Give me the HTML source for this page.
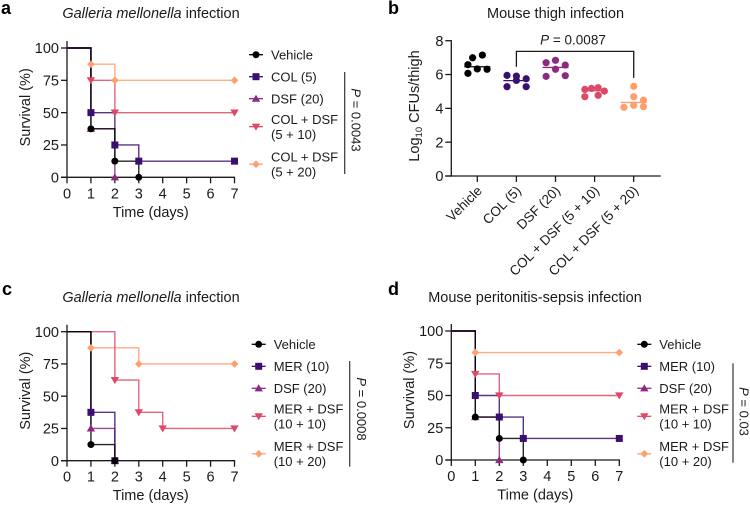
<!DOCTYPE html>
<html>
<head>
<meta charset="utf-8">
<title>Survival and CFU charts</title>
<style>
html,body{margin:0;padding:0;background:#fff;}
svg{display:block;font-family:"Liberation Sans",Arial,sans-serif;fill:#1a1a1a;}
.t{font-size:14.5px;}
.l{font-size:13px;}
.p{font-size:18px;font-weight:bold;fill:#000;}
</style>
</head>
<body>
<svg id="fig" width="750" height="505" viewBox="0 0 750 505" xmlns="http://www.w3.org/2000/svg">
<text class="p" x="1" y="14">a</text>
<text class="p" x="388" y="14">b</text>
<text class="p" x="2" y="295">c</text>
<text class="p" x="388" y="295">d</text>
<text class="t" x="151" y="18" text-anchor="middle"><tspan font-style="italic">Galleria mellonella</tspan> infection</text>
<text class="t" x="555.5" y="18" text-anchor="middle">Mouse thigh infection</text>
<text class="t" x="151" y="302" text-anchor="middle"><tspan font-style="italic">Galleria mellonella</tspan> infection</text>
<text class="t" x="535" y="302" text-anchor="middle">Mouse peritonitis-sepsis infection</text>
<text class="t" transform="translate(419,106) rotate(-90)" text-anchor="middle">Log<tspan font-size="9.5" dy="3">10</tspan><tspan dy="-3"> CFUs/thigh</tspan></text>
<text class="l" x="573" y="44.5" font-size="13" text-anchor="middle" style="font-size:13.5px"><tspan font-style="italic">P</tspan> = 0.0087</text>
</svg>
<script>
// ---- shared axis values ----
const dayTicks = [0, 1, 2, 3, 4, 5, 6, 7];
const survivalTicks = [0, 25, 50, 75, 100];
const cfuTicks = [0, 2, 4, 6, 8];

// ---- panel a ----
const aVehicleDays = [0, 1, 2, 3];
const aVehicleSurvival = [100, 37.5, 12.5, 0];
const aColDays = [0, 1, 2, 3, 7];
const aColSurvival = [100, 50, 25, 12.5, 12.5];
const aDsfDays = [0, 1, 2];
const aDsfSurvival = [100, 37.5, 0];
const aCombo10Days = [0, 1, 2, 7];
const aCombo10Survival = [100, 75, 50, 50];
const aCombo20Days = [0, 1, 2, 7];
const aCombo20Survival = [100, 87.5, 75, 75];
const aLegend = [["Vehicle"], ["COL (5)"], ["DSF (20)"], ["COL + DSF", "(5 + 10)"], ["COL + DSF", "(5 + 20)"]];

// ---- panel c ----
const cVehicleDays = [0, 1, 2];
const cVehicleSurvival = [100, 12.5, 0];
const cMerDays = [0, 1, 2];
const cMerSurvival = [100, 37.5, 0];
const cDsfDays = [0, 1, 2];
const cDsfSurvival = [100, 25, 0];
const cCombo10Days = [0, 2, 3, 4, 7];
const cCombo10Survival = [100, 62.5, 37.5, 25, 25];
const cCombo20Days = [0, 1, 3, 7];
const cCombo20Survival = [100, 87.5, 75, 75];
const cLegend = [["Vehicle"], ["MER (10)"], ["DSF (20)"], ["MER + DSF", "(10 + 10)"], ["MER + DSF", "(10 + 20)"]];

// ---- panel d ----
const dVehicleDays = [0, 1, 2, 3];
const dVehicleSurvival = [100, 33.3, 16.7, 0];
const dMerDays = [0, 1, 2, 3, 7];
const dMerSurvival = [100, 50, 33.3, 16.7, 16.7];
const dDsfDays = [0, 1, 2];
const dDsfSurvival = [100, 33.3, 0];
const dCombo10Days = [0, 1, 2, 7];
const dCombo10Survival = [100, 66.7, 50, 50];
const dCombo20Days = [0, 1, 7];
const dCombo20Survival = [100, 83.3, 83.3];
const dLegend = cLegend;

// ---- panel b ----
const bCategories = ["Vehicle", "COL (5)", "DSF (20)", "COL + DSF (5 + 10)", "COL + DSF (5 + 20)"];
const bVehicle = [6.58, 6.99, 7.15, 6.07, 6.33, 6.31];
const bCol = [5.95, 5.91, 5.75, 5.28, 5.65, 5.28];
const bDsf = [6.70, 6.84, 6.56, 5.89, 6.31, 5.93];
const bCombo10 = [5.12, 5.18, 5.22, 5.02, 4.69, 4.77];
const bCombo20 = [5.30, 4.69, 4.49, 4.10, 4.18, 4.06];
const bMedians = [6.46, 5.64, 6.42, 5.04, 4.35];
// horizontal scatter of each point, in category widths
const bVehicleJitter = [-0.24, -0.12, 0.13, -0.24, 0, 0.25];
const bColJitter = [-0.24, 0, 0.25, -0.24, 0, 0.25];
const bDsfJitter = [-0.24, 0, 0.25, -0.24, 0, 0.25];
const bCombo10Jitter = [-0.25, -0.08, 0.09, 0.25, -0.25, 0.09];
const bCombo20Jitter = [0, 0, 0.25, 0.25, 0, -0.25];

const seriesColors = ["#000000", "#3b0f70", "#8c2981", "#de4968", "#fe9f6d"];
const seriesShapes = ["circle", "square", "triangle", "inverted", "diamond"];

const NS = "http://www.w3.org/2000/svg";
const fig = document.getElementById("fig");
const INK = "#1a1a1a";

function make(tag, attrs, text) {
  const el = document.createElementNS(NS, tag);
  for (const k in attrs) el.setAttribute(k, attrs[k]);
  if (text !== undefined) el.textContent = text;
  fig.appendChild(el);
  return el;
}

function drawMarker(shape, x, y, color) {
  let el;
  if (shape === "circle") {
    el = make("circle", { cx: x, cy: y, r: 3.5, fill: color });
  } else if (shape === "square") {
    el = make("rect", { x: x - 3.5, y: y - 3.5, width: 7, height: 7, fill: color });
  } else if (shape === "triangle") {
    el = make("polygon", { points: (x - 4.2) + "," + (y + 3.1) + " " + (x + 4.2) + "," + (y + 3.1) + " " + x + "," + (y - 4), fill: color });
  } else if (shape === "inverted") {
    el = make("polygon", { points: (x - 4.2) + "," + (y - 3.1) + " " + (x + 4.2) + "," + (y - 3.1) + " " + x + "," + (y + 4), fill: color });
  } else {
    el = make("polygon", { points: (x - 3.8) + "," + y + " " + x + "," + (y - 3.8) + " " + (x + 3.8) + "," + y + " " + x + "," + (y + 3.8), fill: color });
  }
  return el;
}

function drawSurvivalPanel(g, series, legend) {
  const xs = d => g.x0 + (g.x7 - g.x0) * d / 7;
  const ys = v => g.y0 + (g.y100 - g.y0) * v / 100;

  // axes
  const yAxis = make("line", { x1: xs(0), x2: xs(0), y1: g.y100 - 7, y2: g.y0 + 0.6, stroke: INK, "stroke-width": 1.3 });
  
  
  const xAxis = make("line", { x1: xs(0) - 6, x2: xs(7) + 0.6, y1: g.y0, y2: g.y0, stroke: INK, "stroke-width": 1.3 });
  
  

  survivalTicks.forEach(v => {
    const tick = make("line", { x1: xs(0) - 6, x2: xs(0), y1: ys(v), y2: ys(v), stroke: INK, "stroke-width": 1.3 });
    
    
    const label = make("text", { x: xs(0) - 8, y: ys(v) + 5.2, "text-anchor": "end", class: "t" }, v);
    
    
  });
  dayTicks.forEach(d => {
    const tick = make("line", { x1: xs(d), x2: xs(d), y1: g.y0, y2: g.y0 + 6, stroke: INK, "stroke-width": 1.3 });
    
    
    const label = make("text", { x: xs(d), y: g.y0 + 21, "text-anchor": "middle", class: "t" }, d);
    
    
  });

  const xTitle = make("text", { x: (xs(0) + xs(7)) / 2, y: g.y0 + 39.5, "text-anchor": "middle", class: "t" }, "Time (days)");
  
  
  const yTitle = make("text", { transform: "translate(" + g.yTitleX + "," + (g.y0 - 70) + ") rotate(-90)", "text-anchor": "middle", class: "t" }, "Survival (%)");
  
  

  // step lines, last group first so vehicle sits on top
  for (let i = series.length - 1; i >= 0; i--) {
    const s = series[i];
    let path = "M" + xs(s.days[0]) + " " + ys(s.values[0]);
    for (let j = 1; j < s.days.length; j++) {
      path += "H" + xs(s.days[j]) + "V" + ys(s.values[j]);
    }
    const line = make("path", { d: path, fill: "none", stroke: seriesColors[i], "stroke-width": 1.4, opacity: 0.85 });
    
    
  }
  for (let i = series.length - 1; i >= 0; i--) {
    const s = series[i];
    for (let j = 1; j < s.days.length; j++) {
      const m = drawMarker(seriesShapes[i], xs(s.days[j]), ys(s.values[j]), seriesColors[i]);
      
      
    }
  }

  // legend
  const rowOffsets = [0, 22, 44, 72, 109.5];
  legend.forEach((lines, i) => {
    const cy = g.legendY + rowOffsets[i];
    const swatch = make("line", { x1: g.legendX, x2: g.legendX + 14, y1: cy, y2: cy, stroke: seriesColors[i], "stroke-width": 1.3 });
    
    
    const mk = drawMarker(seriesShapes[i], g.legendX + 7, cy, seriesColors[i]);
    
    
    lines.forEach((txt, k) => {
      const base = lines.length === 1 ? cy + 4.6 : cy + 4.6 - 7.4 + k * 15;
      const label = make("text", { x: g.legendX + 22, y: base, class: "l" }, txt);
      
      
    });
  });

  // significance line
  const sig = make("line", { x1: g.pX, x2: g.pX, y1: g.pY1, y2: g.pY2, stroke: "#333", "stroke-width": 1.2 });
  
  
  const pText = make("text", { transform: "translate(" + g.pTextX + "," + g.pTextY + ") rotate(90)", "text-anchor": "middle", class: "l" });
  
  
  const pi = document.createElementNS(NS, "tspan");
  pi.setAttribute("font-style", "italic");
  pi.textContent = "P";
  pText.appendChild(pi);
  pText.appendChild(document.createTextNode(" = " + g.p));
}

drawSurvivalPanel(
  { x0: 67, x7: 234.5, y0: 177.3, y100: 48, yTitleX: 30, legendX: 249, legendY: 54.7, pX: 344.7, pY1: 72, pY2: 174, pTextX: 351.5, pTextY: 120, p: "0.0043" },
  [
    { days: aVehicleDays, values: aVehicleSurvival },
    { days: aColDays, values: aColSurvival },
    { days: aDsfDays, values: aDsfSurvival },
    { days: aCombo10Days, values: aCombo10Survival },
    { days: aCombo20Days, values: aCombo20Survival }
  ],
  aLegend
);
drawSurvivalPanel(
  { x0: 67, x7: 234.5, y0: 460.7, y100: 331.7, yTitleX: 30, legendX: 251.7, legendY: 344.3, pX: 349.7, pY1: 361, pY2: 466.7, pTextX: 357, pTextY: 409, p: "0.0008" },
  [
    { days: cVehicleDays, values: cVehicleSurvival },
    { days: cMerDays, values: cMerSurvival },
    { days: cDsfDays, values: cDsfSurvival },
    { days: cCombo10Days, values: cCombo10Survival },
    { days: cCombo20Days, values: cCombo20Survival }
  ],
  cLegend
);
drawSurvivalPanel(
  { x0: 451.3, x7: 619.3, y0: 460, y100: 331, yTitleX: 414, legendX: 637.3, legendY: 344.3, pX: 733, pY1: 363.3, pY2: 462.7, pTextX: 739.5, pTextY: 411.5, p: "0.03" },
  [
    { days: dVehicleDays, values: dVehicleSurvival },
    { days: dMerDays, values: dMerSurvival },
    { days: dDsfDays, values: dDsfSurvival },
    { days: dCombo10Days, values: dCombo10Survival },
    { days: dCombo20Days, values: dCombo20Survival }
  ],
  dLegend
);

// ---- panel b drawing ----
(function () {
  const bX = i => 477.3 + 39.1 * i;
  const bY = v => 176 + (40.7 - 176) * v / 8;
  const groups = [bVehicle, bCol, bDsf, bCombo10, bCombo20];
  const jitters = [bVehicleJitter, bColJitter, bDsfJitter, bCombo10Jitter, bCombo20Jitter];

  const yAxis = make("line", { x1: 451.3, x2: 451.3, y1: bY(8) - 0.6, y2: bY(0) + 0.6, stroke: INK, "stroke-width": 1.3 });
  
  
  const xAxis = make("line", { x1: 445.3, x2: 660.7, y1: bY(0), y2: bY(0), stroke: INK, "stroke-width": 1.3 });
  
  

  cfuTicks.forEach(v => {
    const tick = make("line", { x1: 445.3, x2: 451.3, y1: bY(v), y2: bY(v), stroke: INK, "stroke-width": 1.3 });
    
    
    const label = make("text", { x: 443.5, y: bY(v) + 5.2, "text-anchor": "end", class: "t" }, v);
    
    
  });

  bCategories.forEach((name, i) => {
    const tick = make("line", { x1: bX(i), x2: bX(i), y1: bY(0), y2: bY(0) + 6, stroke: INK, "stroke-width": 1.3 });
    
    
    const label = make("text", { transform: "translate(" + (bX(i) + 5.5) + ",191.5) rotate(-45)", "text-anchor": "end", class: "l", style: "font-size:13.5px" }, name);
    
    
  });

  groups.forEach((vals, i) => {
    vals.forEach((v, j) => {
      const dot = make("circle", { cx: bX(i) + jitters[i][j] * 39.1, cy: bY(v), r: 3.6, fill: seriesColors[i] });
      
      
    });
    const med = make("line", { x1: bX(i) - 13, x2: bX(i) + 13, y1: bY(bMedians[i]), y2: bY(bMedians[i]), stroke: seriesColors[i], "stroke-width": 1.3 });
    
    
  });

  const bracketTop = bY(7.37);
  const bracket = make("path", { d: "M" + bX(1) + " " + bY(6.46) + "V" + bracketTop + "H" + bX(4) + "V" + bY(5.8), fill: "none", stroke: INK, "stroke-width": 1.3 });
  
  
})();
</script>
</body>
</html>
